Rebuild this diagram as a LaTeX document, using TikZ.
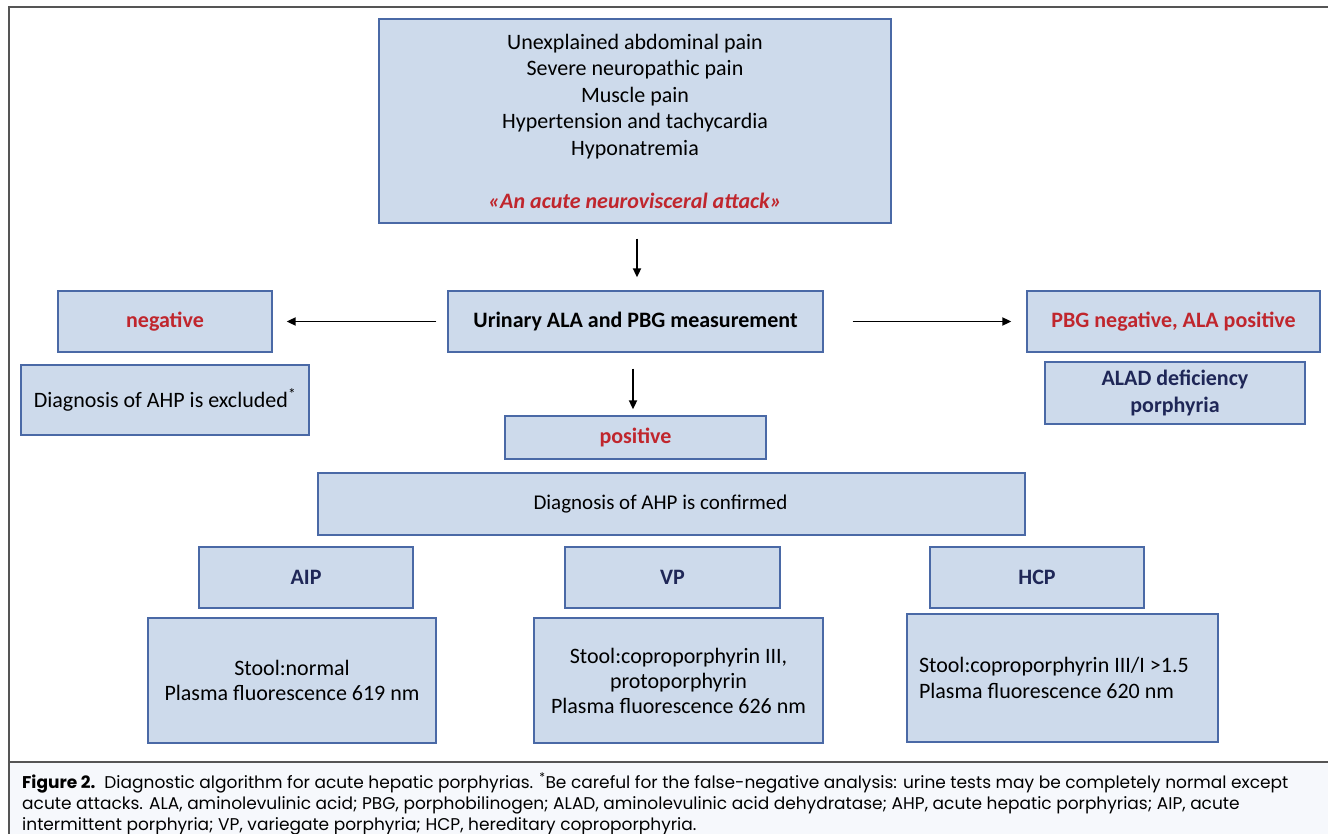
\documentclass[tikz,border=0pt]{standalone}
\usepackage{fontspec}
\setmainfont{Carlito}
\newfontfamily\capfont{Poppins}
\usetikzlibrary{arrows.meta}
\definecolor{boxfill}{HTML}{CDDAEB}
\definecolor{boxborder}{HTML}{4A69A6}
\definecolor{redtxt}{HTML}{C0262D}
\definecolor{navytxt}{HTML}{1F2757}
\definecolor{framegrey}{HTML}{555555}
\definecolor{capbg}{HTML}{F6F8FC}
\tikzset{
  box/.style={draw=boxborder, fill=boxfill, line width=1.3pt, inner sep=0pt, align=center,
    font=\fontsize{22}{26.5}\selectfont},
  boldbox/.style={box, font=\fontsize{22}{26.5}\selectfont\bfseries},
  arr/.style={draw=black, line width=1.8pt, -{Triangle[length=9pt,width=8pt]}},
  captxt/.style={anchor=base west, inner sep=0pt, font=\capfont\fontsize{17}{21}\selectfont}
}
\begin{document}
\begin{tikzpicture}[x=1pt,y=-1pt]
\useasboundingbox (0,0) rectangle (1328,834);
% frame and caption
\fill[capbg] (9,762) rectangle (1330,836);
\draw[framegrey, line width=1.4pt] (1330,7) -- (9,7) -- (9,836);
\draw[framegrey, line width=1.4pt] (9,762) -- (1330,762);

\node[box, minimum width=512, minimum height=204] (top) at (635,121)
  {Unexplained abdominal pain\\Severe neuropathic pain\\Muscle pain\\Hypertension and tachycardia\\Hyponatremia\\[26.5pt]
   {\color{redtxt}\bfseries\itshape «An acute neurovisceral attack»}};
\node[boldbox, minimum width=375, minimum height=61] (urin) at (635.5,321.5) {Urinary ALA and PBG measurement};
\node[boldbox, minimum width=214, minimum height=61, text=redtxt] (neg) at (165,321.5) {negative};
\node[boldbox, minimum width=293, minimum height=61, text=redtxt] (pbg) at (1173.5,321.5) {PBG negative, ALA positive};
\node[boldbox, minimum width=260, minimum height=62, text=navytxt] (alad) at (1175,393) {ALAD deficiency\\porphyria};
\node[box, minimum width=288, minimum height=70] (excl) at (165,400) {Diagnosis of AHP is excluded\textsuperscript{*}};
\node[boldbox, minimum width=261, minimum height=43, text=redtxt] (pos) at (635.5,437.5) {positive};
\node[box, minimum width=707, minimum height=62, font=\fontsize{21}{26.5}\selectfont] (conf) at (671.5,504) {\hspace*{-22pt}Diagnosis of AHP is confirmed};
\node[boldbox, minimum width=214, minimum height=61, text=navytxt] (aip) at (306,577.5) {AIP};
\node[boldbox, minimum width=215, minimum height=61, text=navytxt] (vp) at (672.5,577.5) {VP};
\node[boldbox, minimum width=214, minimum height=61, text=navytxt] (hcp) at (1037,577.5) {HCP};
\node[box, minimum width=288, minimum height=125, font=\fontsize{22}{25}\selectfont] (aipd) at (292,680.5) {Stool:normal\\Plasma fluorescence 619 nm};
\node[box, minimum width=289, minimum height=125, font=\fontsize{22}{25}\selectfont] (vpd) at (678.5,680.5) {Stool:coproporphyrin III,\\protoporphyrin\\Plasma fluorescence 626 nm};
\node[box, minimum height=128, text width=287pt, inner xsep=12pt, align=flush left, font=\fontsize{22}{26}\selectfont] (hcpd) at (1062.5,678) {Stool:coproporphyrin III/I >1.5\\Plasma fluorescence 620 nm};

\draw[arr, shorten <=15pt, shorten >=13pt] ([xshift=2pt]top.south) -- ([xshift=2pt]top.south |- urin.north);
\draw[arr, shorten <=11pt, shorten >=14pt] (urin.west) -- (neg.east);
\draw[arr, shorten <=29pt, shorten >=15pt] (urin.east) -- (pbg.west);
\draw[arr, shorten <=16pt, shorten >=6pt] ([xshift=-2.5pt]urin.south) -- ([xshift=-2.5pt]urin.south |- pos.north);

\node[captxt] (cap1) at (22,788) {\textbf{Figure 2.}\ \ Diagnostic algorithm for acute hepatic porphyrias. \textsuperscript{*}Be careful for the false-negative analysis: urine tests may be completely normal except};
\node[captxt] (cap2) at (22,809) {acute attacks. ALA, aminolevulinic acid; PBG, porphobilinogen; ALAD, aminolevulinic acid dehydratase; AHP, acute hepatic porphyrias; AIP, acute};
\node[captxt] (cap3) at (22,830) {intermittent porphyria; VP, variegate porphyria; HCP, hereditary coproporphyria.};
\end{tikzpicture}
\end{document}
